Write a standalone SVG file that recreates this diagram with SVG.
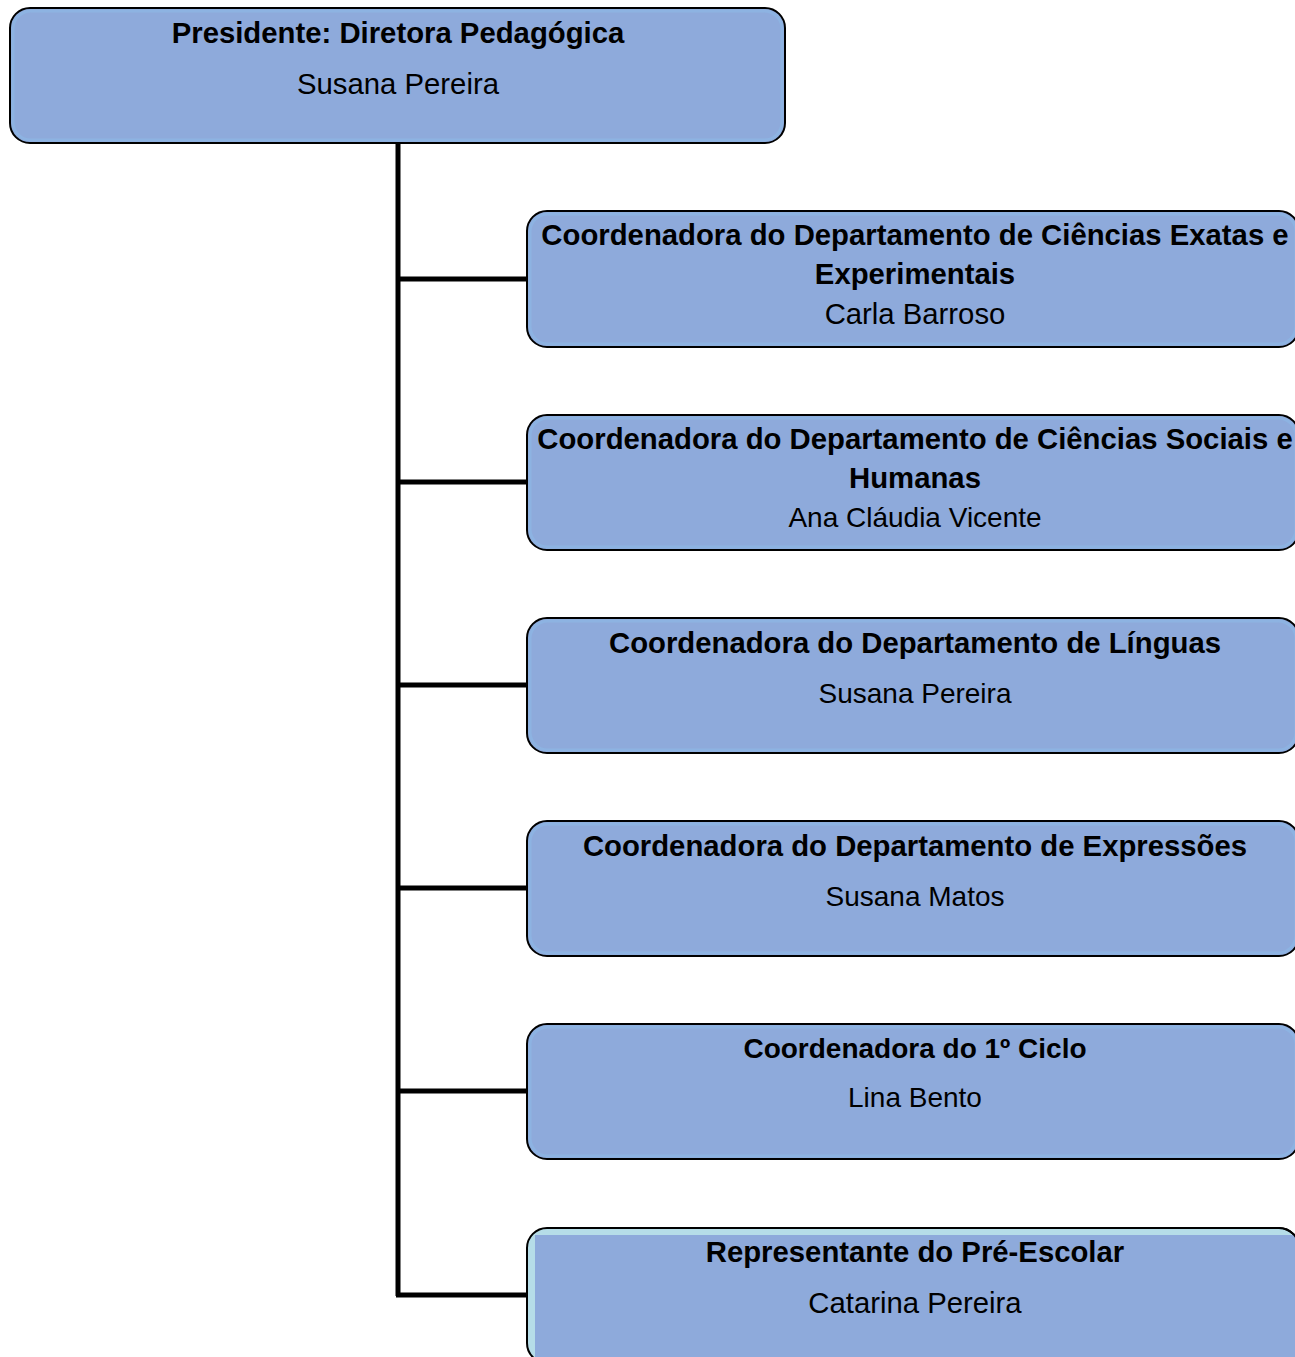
<svg xmlns="http://www.w3.org/2000/svg" width="1295" height="1357" viewBox="0 0 1295 1357">
<style>
.box{fill:#8eaadb;stroke:#000;stroke-width:2}
.band{fill:none;stroke:#8db3e2;stroke-width:3}
.b{font-family:"Liberation Sans",Arial,sans-serif;font-weight:bold;font-size:29.3px;text-anchor:middle;fill:#000}
.r{font-family:"Liberation Sans",Arial,sans-serif;font-size:29.3px;text-anchor:middle;fill:#000}
.s{font-size:28px}
.con{stroke:#000;stroke-width:5;fill:none}
</style>
<rect width="1295" height="1357" fill="#fff"/>
<g id="connectors">
<path class="con" d="M398,143 V1296"/>
<path class="con" d="M396,279 H528 M396,482 H528 M396,685 H528 M396,888 H528 M396,1091 H528 M396,1295 H528"/>
</g>
<g id="n0">
<rect class="box" x="10" y="8" width="775" height="135" rx="20"/>
<rect class="band" x="13" y="11" width="769" height="129" rx="18"/>
<text class="b" x="398" y="43">Presidente: Diretora Pedagógica</text>
<text class="r" x="398" y="94">Susana Pereira</text>
</g>
<g id="n1">
<rect class="box" x="527" y="211" width="772" height="136" rx="20"/>
<rect class="band" x="530" y="214" width="766" height="130" rx="18"/>
<text class="b" x="915" y="245">Coordenadora do Departamento de Ciências Exatas e</text>
<text class="b" x="915" y="284">Experimentais</text>
<text class="r" x="915" y="324">Carla Barroso</text>
</g>
<g id="n2">
<rect class="box" x="527" y="415" width="772" height="135" rx="20"/>
<rect class="band" x="530" y="418" width="766" height="129" rx="18"/>
<text class="b" x="915" y="449">Coordenadora do Departamento de Ciências Sociais e</text>
<text class="b" x="915" y="488">Humanas</text>
<text class="r s" x="915" y="527">Ana Cláudia Vicente</text>
</g>
<g id="n3">
<rect class="box" x="527" y="618" width="772" height="135" rx="20"/>
<rect class="band" x="530" y="621" width="766" height="129" rx="18"/>
<text class="b" x="915" y="653">Coordenadora do Departamento de Línguas</text>
<text class="r s" x="915" y="703">Susana Pereira</text>
</g>
<g id="n4">
<rect class="box" x="527" y="821" width="772" height="135" rx="20"/>
<rect class="band" x="530" y="824" width="766" height="129" rx="18"/>
<text class="b" x="915" y="856">Coordenadora do Departamento de Expressões</text>
<text class="r s" x="915" y="906">Susana Matos</text>
</g>
<g id="n5">
<rect class="box" x="527" y="1024" width="772" height="135" rx="20"/>
<rect class="band" x="530" y="1027" width="766" height="129" rx="18"/>
<text class="b s" x="915" y="1058">Coordenadora do 1º Ciclo</text>
<text class="r s" x="915" y="1107">Lina Bento</text>
</g>
<g id="n6">
<rect x="527" y="1228" width="772" height="135" rx="20" fill="#b6dde8" stroke="#000" stroke-width="2"/>
<path d="M535,1235 H1295 V1357 H535 Z" fill="#8eaadb"/>
<path d="M547,1228 H1279 A20,20 0 0 1 1299,1248" fill="none" stroke="#000" stroke-width="2"/>
<text class="b" x="915" y="1262">Representante do Pré-Escolar</text>
<text class="r" x="915" y="1313">Catarina Pereira</text>
</g>
</svg>
